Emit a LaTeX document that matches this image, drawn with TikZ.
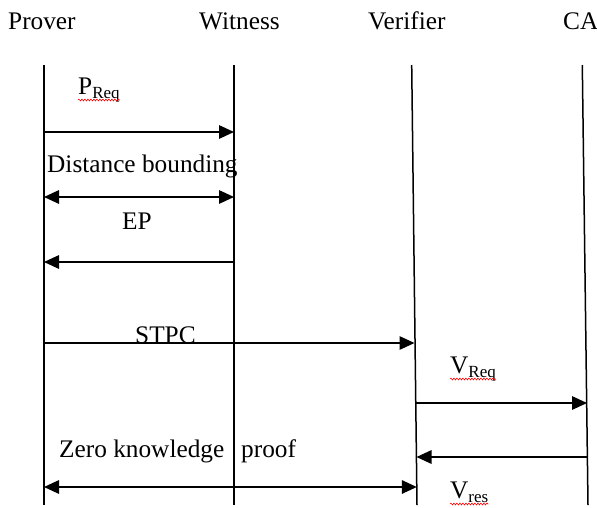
\documentclass[tikz,border=0pt]{standalone}
\usepackage{fontspec}
\setmainfont{Liberation Serif}
\usetikzlibrary{arrows.meta,calc,decorations.pathmorphing}

% lowered, smaller text for message subscripts
\newcommand{\lowtext}[1]{\raisebox{-4pt}{\fontsize{17}{17}\selectfont #1}}

\begin{document}
\begin{tikzpicture}[x=1pt,y=-1pt,
  lbl/.style={inner sep=0pt,anchor=base west,font=\fontsize{25.3}{30}\selectfont},
  life/.style={line width=1.5pt},
  msg/.style={line width=1.5pt,-{Triangle[length=15pt,width=13.5pt]}},
  twoway/.style={line width=1.5pt,{Triangle[length=15pt,width=13.5pt]}-{Triangle[length=15pt,width=13.5pt]}},
  squig/.style={red,line width=0.6pt,decorate,decoration={snake,segment length=3pt,amplitude=0.9pt}}]
\useasboundingbox (0,0) rectangle (597,507);

% participants
\node[lbl] (hP) at (8,29) {Prover};
\node[lbl] (hW) at (199,29) {Witness};
\node[lbl] (hV) at (368,29) {Verifier};
\node[lbl] (hC) at (563,29) {CA};

% lifelines
\coordinate (pTop) at (44,65);   \coordinate (pBot) at (44,505);
\coordinate (wTop) at (234,65);  \coordinate (wBot) at (234,505);
\coordinate (vTop) at (411.7,65); \coordinate (vBot) at (417,505);
\coordinate (cTop) at (582.3,65); \coordinate (cBot) at (588,505);
\draw[life] (pTop) -- (pBot);
\draw[life] (wTop) -- (wBot);
\draw[life] (vTop) -- (vBot);
\draw[life] (cTop) -- (cBot);

% message end points on the lifelines
\coordinate (m1a) at (44,132);  \coordinate (m1b) at (234,132);
\coordinate (m2a) at (44,197);  \coordinate (m2b) at (234,197);
\coordinate (m3a) at (44,262);  \coordinate (m3b) at (234,262);
\coordinate (m4a) at (44,343);  \coordinate (m4b) at (414.5,343);
\coordinate (m5a) at (415.8,403); \coordinate (m5b) at (587,403);
\coordinate (m6a) at (416.5,457); \coordinate (m6b) at (587.5,457);
\coordinate (m7a) at (44,487);  \coordinate (m7b) at (416.8,487);

% messages
\draw[msg] (m1a) -- (m1b);
\draw[twoway] (m2a) -- (m2b);
\draw[msg] (m3b) -- (m3a);
\draw[msg] (m4a) -- (m4b);
\draw[msg] (m5a) -- (m5b);
\draw[msg] (m6b) -- (m6a);
\draw[twoway] (m7a) -- (m7b);

% message labels
\node[lbl] (preq) at (78,94) {P\lowtext{Req}};
\node[lbl] (dist) at (47,172) {Distance bounding};
\node[lbl] (ep) at (122,229) {EP};
\node[lbl] (stpc) at (135,343) {STPC};
\node[lbl] (vreq) at (450,373) {V\lowtext{Req}};
\node[lbl] (zk) at (59,457) {Zero knowledge};
\node[lbl] (zkp) at (241,457) {proof};
\node[lbl] (vres) at (450,498) {V\lowtext{res}};

% spelling marks under the subscripted labels
\draw[squig] ([yshift=-6pt]preq.base west) -- ([yshift=-6pt]preq.base east);
\draw[squig] ([yshift=-6pt]vreq.base west) -- ([yshift=-6pt]vreq.base east);
\draw[squig] ([yshift=-6pt]vres.base west) -- ([yshift=-6pt]vres.base east);
\end{tikzpicture}
\end{document}
